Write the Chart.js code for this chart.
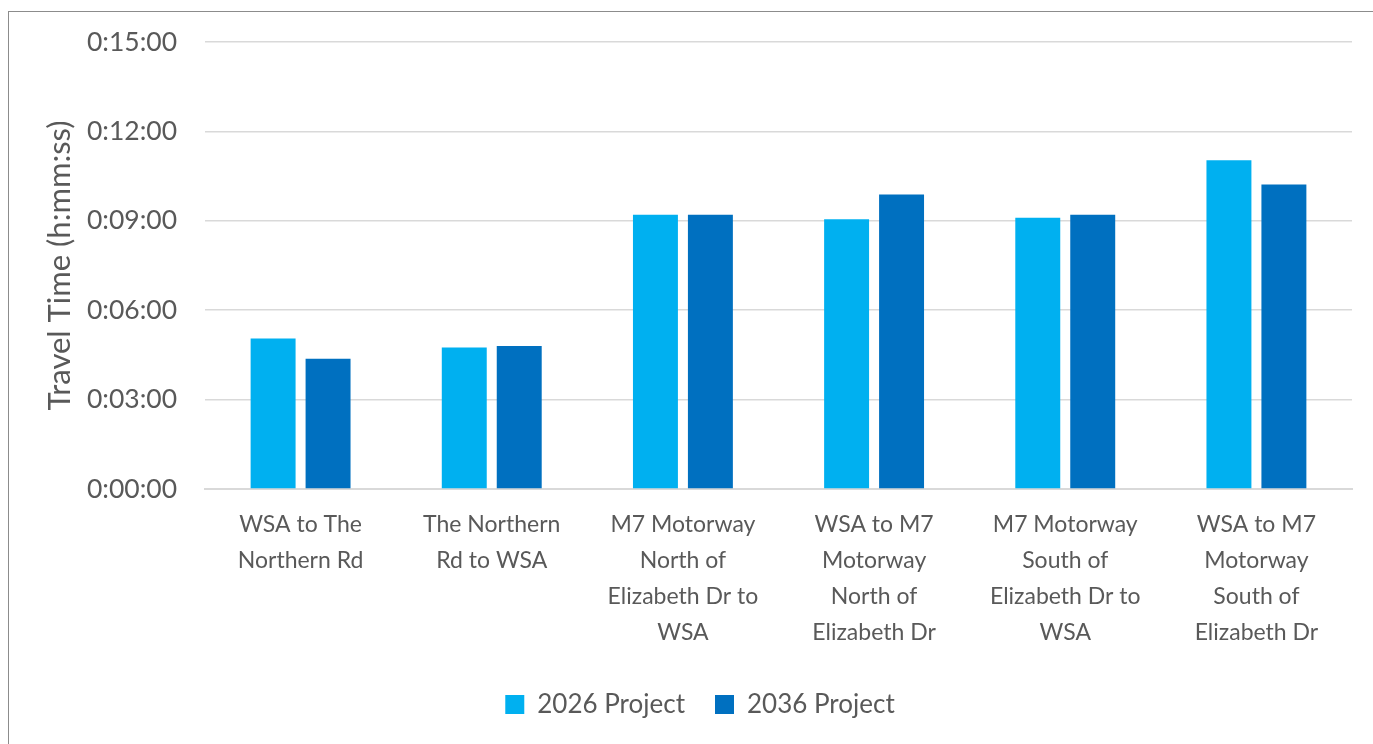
<!DOCTYPE html>
<html>
<head>
<meta charset="utf-8">
<script src="https://cdn.jsdelivr.net/npm/chart.js@4.4.1/dist/chart.umd.min.js"></script>
<style>
  html, body { margin: 0; padding: 0; background: #ffffff; overflow: hidden; width: 1373px; height: 744px; }
  #frame { position: absolute; left: 8px; top: 11px; width: 1500px; height: 900px; border: 1px solid #8c8c8c; box-sizing: border-box; }
  #wrap { position: absolute; left: 8px; top: 11px; width: 1384px; height: 733px; }
</style>
</head>
<body>
<div id="frame"></div>
<div id="wrap"><canvas id="c"></canvas></div>
<script>
const categories = [
  ["WSA to The", "Northern Rd"],
  ["The Northern", "Rd to WSA"],
  ["M7 Motorway", "North of", "Elizabeth Dr to", "WSA"],
  ["WSA to M7", "Motorway", "North of", "Elizabeth Dr"],
  ["M7 Motorway", "South of", "Elizabeth Dr to", "WSA"],
  ["WSA to M7", "Motorway", "South of", "Elizabeth Dr"]
];
const seriesNames = ["2026 Project", "2036 Project"];
const project2026 = ["0:05:03", "0:04:45", "0:09:12", "0:09:03", "0:09:06", "0:11:02"];
const project2036 = ["0:04:22", "0:04:48", "0:09:12", "0:09:53", "0:09:12", "0:10:13"];
const yTickMax = "0:15:00";
const yTickStep = "0:03:00";

function toSec(s) { const p = s.split(":").map(Number); return p[0] * 3600 + p[1] * 60 + p[2]; }
function fmt(v) {
  const h = Math.floor(v / 3600), m = Math.floor((v % 3600) / 60), s = Math.round(v % 60);
  return h + ":" + String(m).padStart(2, "0") + ":" + String(s).padStart(2, "0");
}

const FONT = "Lato, 'Noto Sans', sans-serif";
const GREY = "#595959";

new Chart(document.getElementById("c"), {
  type: "bar",
  data: {
    labels: categories,
    datasets: [
      { label: seriesNames[0], data: project2026.map(toSec), backgroundColor: "#00B0F0",
        categoryPercentage: 0.575, barPercentage: 0.818 },
      { label: seriesNames[1], data: project2036.map(toSec), backgroundColor: "#0070C0",
        categoryPercentage: 0.575, barPercentage: 0.818 }
    ]
  },
  options: {
    responsive: true,
    maintainAspectRatio: false,
    animation: false,
    layout: { padding: { left: 0, right: 0, top: 31, bottom: 16.5 } },
    plugins: {
      tooltip: { enabled: false },
      legend: {
        position: "bottom",
        labels: {
          color: GREY,
          font: { family: FONT, size: 26 },
          boxWidth: 19, boxHeight: 19, padding: 30
        }
      }
    },
    scales: {
      x: {
        grid: { display: false, drawTicks: false },
        border: { display: true, color: "#d9d9d9", width: 2 },
        ticks: { color: GREY, font: { family: FONT, size: 23, lineHeight: 1.565 }, padding: 18, maxRotation: 0, autoSkip: false },
        afterFit: (s) => { s.height = 172.5; }
      },
      y: {
        min: 0, max: toSec(yTickMax),
        border: { display: false },
        grid: { color: "#d9d9d9", lineWidth: 1.5, drawTicks: false },
        ticks: { stepSize: toSec(yTickStep), color: GREY, font: { family: FONT, size: 26.5 }, padding: 28, callback: (v) => fmt(v) },
        title: { display: true, text: "Travel Time (h:mm:ss)", color: GREY, font: { family: FONT, size: 31 }, padding: { top: 33, bottom: 0 } },
        afterFit: (s) => { s.width = 197; s.paddingTop = 0; s.paddingBottom = 0; }
      },
      spacer: {
        position: "right",
        display: true,
        grid: { display: false, drawTicks: false },
        border: { display: false },
        ticks: { display: false },
        afterFit: (s) => { s.width = 40; s.paddingTop = 0; s.paddingBottom = 0; }
      }
    }
  }
});
</script>
</body>
</html>
